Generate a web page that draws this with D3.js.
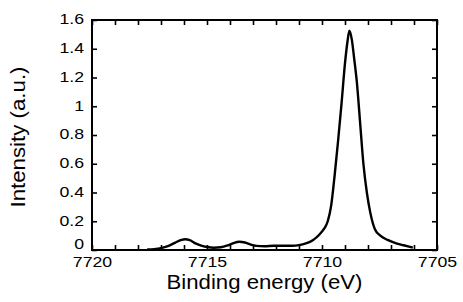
<!DOCTYPE html>
<html>
<head>
<meta charset="utf-8">
<script src="https://cdn.jsdelivr.net/npm/d3@7"></script>
<style>
  html, body { margin: 0; padding: 0; background: #fff; }
  svg { display: block; }
  text { font-family: "Liberation Sans", Arial, Helvetica, sans-serif; fill: #000; }
</style>
</head>
<body>
<svg id="chart" width="463" height="302"></svg>
<script>
// Binding energy (eV) and intensity (a.u.)
const energy = [7717.6, 7717.3, 7717.0, 7716.7, 7716.4, 7716.15, 7715.95, 7715.75, 7715.5, 7715.25,
  7715.0, 7714.7, 7714.4, 7714.1, 7713.85, 7713.6, 7713.35, 7713.1, 7712.85, 7712.5,
  7712.1, 7711.7, 7711.3, 7711.0, 7710.7, 7710.4, 7710.1, 7709.9, 7709.75, 7709.6,
  7709.45, 7709.3, 7709.15, 7709.0, 7708.9, 7708.81, 7708.7, 7708.6, 7708.48, 7708.35,
  7708.2, 7708.05, 7707.9, 7707.7, 7707.45, 7707.15, 7706.8, 7706.45, 7706.05];
const intensity = [0.003, 0.006, 0.013, 0.027, 0.050, 0.068, 0.075, 0.068, 0.046, 0.030,
  0.021, 0.016, 0.019, 0.032, 0.048, 0.057, 0.052, 0.038, 0.029, 0.026,
  0.030, 0.030, 0.030, 0.034, 0.046, 0.068, 0.110, 0.150, 0.200, 0.310,
  0.520, 0.760, 1.020, 1.300, 1.440, 1.525, 1.460, 1.330, 1.160, 0.900,
  0.600, 0.400, 0.260, 0.145, 0.098, 0.070, 0.048, 0.033, 0.016];

const xTicks = [7720, 7719, 7718, 7717, 7716, 7715, 7714, 7713, 7712, 7711, 7710, 7709, 7708, 7707, 7706, 7705];
const xLabels = [7720, 7715, 7710, 7705];
const yTicks = [0, 0.2, 0.4, 0.6, 0.8, 1, 1.2, 1.4, 1.6];
const xTitle = "Binding energy (eV)";
const yTitle = "Intensity (a.u.)";

const svg = d3.select("#chart");
const L = 92, R = 437, T = 20, B = 250;

const x = d3.scaleLinear().domain([7720, 7705]).range([L, R]);
const y = d3.scaleLinear().domain([0, 1.6]).range([B, T]);

const tickFmtX = d => xLabels.includes(d) ? String(d) : "";
const tickFmtY = d => String(+d.toFixed(1));

function styleAxis(g) {
  g.select(".domain").remove();
  g.selectAll(".tick line").attr("stroke", "#000").attr("stroke-width", 1.6);
  g.selectAll("text").style("font-size", "15px").attr("fill", "#000");
}

// bottom axis
svg.append("g").attr("transform", `translate(0,${B})`)
  .call(d3.axisBottom(x).tickValues(xTicks).tickSize(-5).tickPadding(6).tickFormat(tickFmtX))
  .call(styleAxis);
// top axis (ticks only)
svg.append("g").attr("transform", `translate(0,${T})`)
  .call(d3.axisTop(x).tickValues(xTicks).tickSize(-5).tickFormat(() => ""))
  .call(styleAxis);
// left axis
const yAxisG = svg.append("g").attr("transform", `translate(${L},0)`)
  .call(d3.axisLeft(y).tickValues(yTicks).tickSize(-5).tickPadding(8).tickFormat(tickFmtY))
  .call(styleAxis);
// labels sit slightly above their ticks; the "0" is lifted clear of the x labels
yAxisG.selectAll(".tick text").attr("y", d => d === 0 ? -6 : -1);
// right axis (ticks only)
svg.append("g").attr("transform", `translate(${R},0)`)
  .call(d3.axisRight(y).tickValues(yTicks).tickSize(-5).tickFormat(() => ""))
  .call(styleAxis);

// horizontal stretch of tick labels to match the reference
svg.selectAll(".tick text").each(function () {
  const w = this.getComputedTextLength();
  if (w > 0) {
    d3.select(this).attr("textLength", w * 1.18).attr("lengthAdjust", "spacingAndGlyphs");
  }
});

// frame
svg.append("rect")
  .attr("x", L).attr("y", T).attr("width", R - L).attr("height", B - T)
  .attr("fill", "none").attr("stroke", "#000").attr("stroke-width", 2);

// curve
const pts = energy.map((e, i) => [e, intensity[i]]);
const line = d3.line().x(d => x(d[0])).y(d => y(d[1])).curve(d3.curveMonotoneX);
svg.append("path").datum(pts)
  .attr("d", line)
  .attr("fill", "none").attr("stroke", "#000").attr("stroke-width", 2.4)
  .attr("stroke-linejoin", "round");

// axis titles
svg.append("text")
  .attr("x", (L + R) / 2).attr("y", 289)
  .attr("text-anchor", "middle").style("font-size", "20px")
  .attr("textLength", 196).attr("lengthAdjust", "spacingAndGlyphs")
  .text(xTitle);
svg.append("text")
  .attr("transform", `translate(25,${(T + B) / 2 + 2}) rotate(-90)`)
  .attr("text-anchor", "middle").style("font-size", "20px")
  .attr("textLength", 141).attr("lengthAdjust", "spacingAndGlyphs")
  .text(yTitle);
</script>
</body>
</html>
